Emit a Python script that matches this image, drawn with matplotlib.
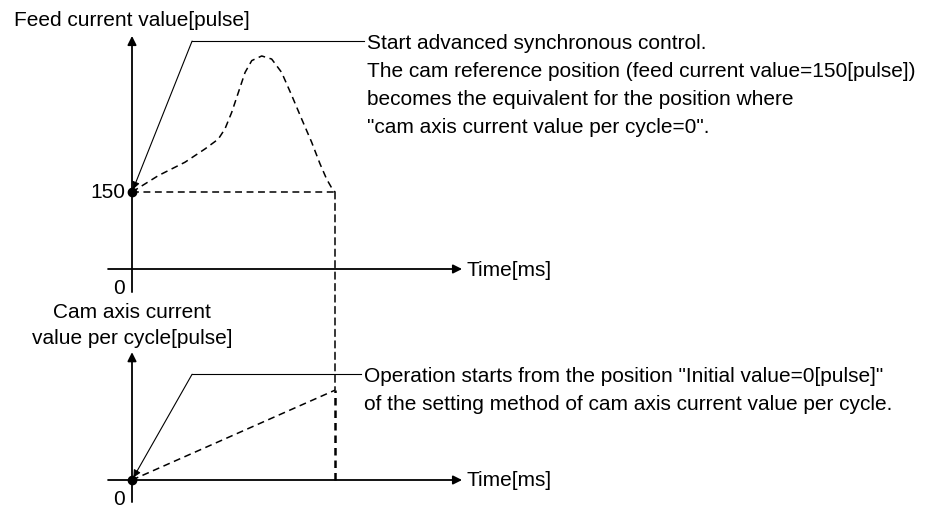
import matplotlib.pyplot as plt
from matplotlib.patches import ConnectionPatch

plt.rcParams['font.family'] = ['Liberation Sans', 'DejaVu Sans']

# cam pattern (time in ms, feed current value in pulse)
cam_time = [0, 13.0, 26.1, 36.0, 42.5, 45.8, 49.1, 52.4, 55.7, 59.0, 63.9,
            68.8, 73.7, 78.7, 83.6, 88.5, 92.6, 95.9, 98.5, 100]
feed_value = [150, 182, 208, 234, 253, 273, 305, 344, 383, 406, 415,
              409, 383, 338, 292, 247, 205, 175, 157, 150]
start_feed = 150
cycle_end = 100
cam_per_cycle = [0, 175]   # cam axis current value per cycle at 0 / cycle_end

top_note = ["Start advanced synchronous control.",
            "The cam reference position (feed current value=150[pulse])",
            "becomes the equivalent for the position where",
            "\"cam axis current value per cycle=0\"."]
bottom_note = ["Operation starts from the position \"Initial value=0[pulse]\"",
               "of the setting method of cam axis current value per cycle."]

W, H = 935, 506
fig = plt.figure(figsize=(W / 100, H / 100), dpi=100)

PX_MS = 2.03          # pixels per ms
PX_PULSE = 77 / 150   # pixels per pulse
FS = 15
LW = 1.3
dash = (0, (4.5, 3))


def make_axes(ox, oy, top, bottom):
    # ox, oy: pixel position of origin
    left, right = 100, 470
    ax = fig.add_axes([left / W, 1 - bottom / H, (right - left) / W, (bottom - top) / H])
    ax.set_xlim((left - ox) / PX_MS, (right - ox) / PX_MS)
    ax.set_ylim((oy - bottom) / PX_PULSE, (oy - top) / PX_PULSE)
    ax.axis('off')
    return ax


def draw_axes(ax, x0, x1, y0, y1):
    arrow = dict(arrowstyle='-|>', lw=LW, color='black', mutation_scale=13,
                 shrinkA=0, shrinkB=0)
    ax.annotate('', xy=(x1, 0), xytext=(x0, 0), arrowprops=arrow, annotation_clip=False)
    ax.annotate('', xy=(0, y1), xytext=(0, y0), arrowprops=arrow, annotation_clip=False)
    ax.annotate('Time[ms]', xy=(x1, 0), xytext=(4, 0), textcoords='offset pixels',
                va='center', ha='left', fontsize=FS, annotation_clip=False)
    ax.annotate('0', xy=(0, 0), xytext=(-7, -19), textcoords='offset pixels',
                va='center', ha='right', fontsize=FS, annotation_clip=False)


def leader(ax, target, knee, end_t, lines):
    ax.annotate('', xy=target, xytext=knee,
                arrowprops=dict(arrowstyle='-|>', lw=0.8, color='black',
                                mutation_scale=11, shrinkA=0, shrinkB=2),
                annotation_clip=False)
    ax.plot([knee[0], end_t], [knee[1], knee[1]], color='black', lw=0.8, clip_on=False)
    for i, line in enumerate(lines):
        ax.annotate(line, xy=(end_t, knee[1]), xytext=(3, -1 - 28.3 * i),
                    textcoords='offset pixels', va='center', ha='left',
                    fontsize=FS, annotation_clip=False)


# ---- top: feed current value
ax1 = make_axes(132, 270, 30, 300)
draw_axes(ax1, -11.8, 162.6, -45, 454)
ax1.plot(cam_time, feed_value, color='black', lw=1.1, linestyle=dash, clip_on=False)
ax1.plot([0, cycle_end], [start_feed, start_feed], color='black', lw=1.1, linestyle=dash)
ax1.plot([0], [start_feed], 'o', color='black', ms=6, clip_on=False)
ax1.annotate(str(start_feed), xy=(0, start_feed), xytext=(-7, 0), textcoords='offset pixels',
             va='center', ha='right', fontsize=FS)
ax1.annotate('Feed current value[pulse]', xy=(0, 454), xytext=(0, 16),
             textcoords='offset pixels', va='center', ha='center', fontsize=FS,
             annotation_clip=False)
leader(ax1, (0, start_feed), (29.6, 444), 114.3, top_note)

# ---- bottom: cam axis current value per cycle
ax2 = make_axes(132, 481, 345, 505)
draw_axes(ax2, -11.8, 162.6, -43, 249)
ax2.plot([0, cycle_end], cam_per_cycle, color='black', lw=1.1, linestyle=dash)
ax2.plot([cycle_end, cycle_end], cam_per_cycle, color='black', lw=1.8, linestyle=(0, (3, 2)))
ax2.plot([0], [0], 'o', color='black', ms=6, clip_on=False)
ax2.annotate('Cam axis current\nvalue per cycle[pulse]', xy=(0, 249), xytext=(0, 28),
             textcoords='offset pixels', va='center', ha='center', fontsize=FS,
             linespacing=1.45, annotation_clip=False)
leader(ax2, (0, 0), (29.6, 206), 112.8, bottom_note)

# vertical dashed line joining end of cycle in both graphs
con = ConnectionPatch(xyA=(cycle_end, start_feed), coordsA=ax1.transData,
                      xyB=(cycle_end, cam_per_cycle[1]), coordsB=ax2.transData,
                      color='black', lw=1.1, linestyle=dash)
fig.add_artist(con)

fig.savefig('out.png', dpi=100)
